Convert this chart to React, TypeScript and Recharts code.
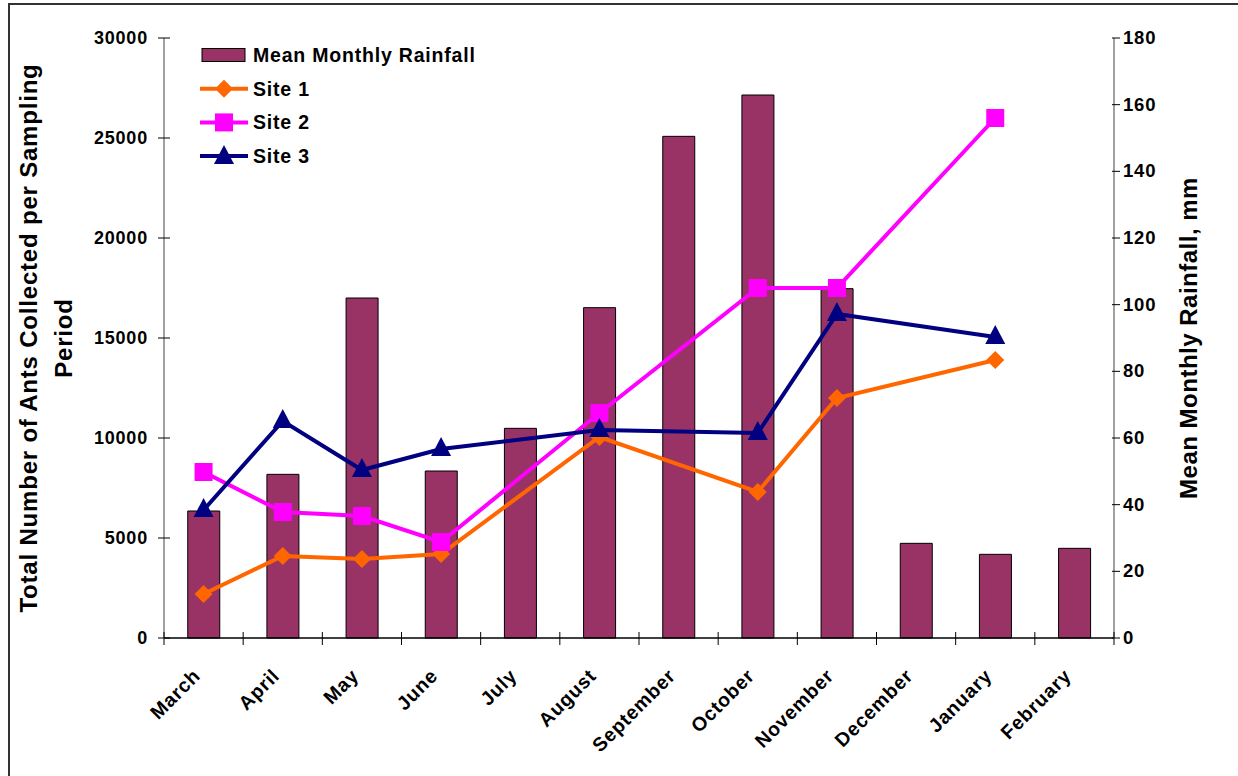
import React from "react";
import {
  ComposedChart,
  Bar,
  Line,
  XAxis,
  YAxis,
  Legend,
} from "recharts";

const months = [
  "March",
  "April",
  "May",
  "June",
  "July",
  "August",
  "September",
  "October",
  "November",
  "December",
  "January",
  "February",
];
const rainfall = [38.1, 49.1, 102, 50.1, 62.9, 99.1, 150.5, 162.9, 104.8, 28.4, 25.1, 26.9];
const site1 = [2200, 4100, 3950, 4200, null, 10050, null, 7300, 12000, null, 13900, null];
const site2 = [8300, 6300, 6100, 4800, null, 11250, null, 17500, 17500, null, 26000, null];
const site3 = [6400, 10850, 8400, 9450, null, 10400, null, 10250, 16200, null, 15050, null];
const antTicks = [0, 5000, 10000, 15000, 20000, 25000, 30000];
const rainTicks = [0, 20, 40, 60, 80, 100, 120, 140, 160, 180];

const data = months.map((month, i) => ({
  month,
  rainfall: rainfall[i],
  site1: site1[i],
  site2: site2[i],
  site3: site3[i],
}));

const W = 1238;
const H = 776;
const PLOT_LEFT = 164;
const PLOT_RIGHT = 1114;
const BAND = (PLOT_RIGHT - PLOT_LEFT) / months.length;
const FONT = "Arial, 'Liberation Sans', sans-serif";

const BAR_FILL = "#993366";
const C1 = "#FF6600";
const C2 = "#FF00FF";
const C3 = "#000080";

const Diamond = ({ cx, cy, color }: any) => (
  <path d={`M${cx},${cy - 9}L${cx + 9},${cy}L${cx},${cy + 9}L${cx - 9},${cy}Z`} fill={color} />
);
const Square = ({ cx, cy, color }: any) => (
  <rect x={cx - 9} y={cy - 9} width={18} height={18} fill={color} />
);
const Triangle = ({ cx, cy, color }: any) => (
  <path d={`M${cx},${cy - 12}L${cx + 10},${cy + 7}L${cx - 10},${cy + 7}Z`} fill={color} />
);

const makeDot = (Shape: any, color: string) => (props: any) => {
  const { cx, cy, index, value } = props;
  if (value == null || cy == null || isNaN(cy)) return <g key={`d${index}`} />;
  return <Shape key={`d${index}`} cx={cx} cy={cy} color={color} />;
};

const MonthTick = (props: any) => {
  const { x, y, payload, index } = props;
  const left = x - BAND / 2;
  return (
    <g>
      <line x1={left} y1={y - 6} x2={left} y2={y + 7} stroke="#000" strokeWidth={1} />
      {index === months.length - 1 && (
        <line x1={x + BAND / 2} y1={y - 6} x2={x + BAND / 2} y2={y + 7} stroke="#000" strokeWidth={1} />
      )}
      <text
        x={x - 2}
        y={y + 39}
        textAnchor="end"
        transform={`rotate(-45, ${x - 2}, ${y + 39})`}
        fontFamily={FONT}
        fontWeight="bold"
        fontSize={19.5}
        letterSpacing={0.8}
        fill="#000"
      >
        {payload.value}
      </text>
    </g>
  );
};

const LeftTick = (props: any) => {
  const { x, y, payload } = props;
  return (
    <g>
      <line x1={x - 6} y1={y} x2={x + 6} y2={y} stroke="#000" />
      <text x={x - 16} y={y + 6} textAnchor="end" fontFamily={FONT} fontWeight="bold" fontSize={18} letterSpacing={0.8} fill="#000">
        {payload.value}
      </text>
    </g>
  );
};

const RightTick = (props: any) => {
  const { x, y, payload } = props;
  return (
    <g>
      <line x1={x - 2} y1={y} x2={x + 6} y2={y} stroke="#000" />
      <text x={x + 9} y={y + 6} textAnchor="start" fontFamily={FONT} fontWeight="bold" fontSize={18.5} letterSpacing={0.8} fill="#000">
        {payload.value}
      </text>
    </g>
  );
};

const LeftTitle = (props: any) => {
  const cy = props.viewBox.y + props.viewBox.height / 2;
  const common = { textAnchor: "middle" as const, fontFamily: FONT, fontWeight: "bold", fontSize: 24, letterSpacing: 0.8, fill: "#000" };
  return (
    <g>
      <text x={37} y={cy} transform={`rotate(-90, 37, ${cy})`} {...common}>
        Total Number of Ants Collected per Sampling
      </text>
      <text x={72} y={cy} transform={`rotate(-90, 72, ${cy})`} {...common}>
        Period
      </text>
    </g>
  );
};

const RightTitle = (props: any) => {
  const cy = props.viewBox.y + props.viewBox.height / 2;
  return (
    <text
      x={1197}
      y={cy}
      transform={`rotate(-90, 1197, ${cy})`}
      textAnchor="middle"
      fontFamily={FONT}
      fontWeight="bold"
      fontSize={24}
      letterSpacing={0.5}
      fill="#000"
    >
      Mean Monthly Rainfall, mm
    </text>
  );
};

const legendItems = [
  { name: "Mean Monthly Rainfall", kind: "bar", color: BAR_FILL },
  { name: "Site 1", kind: "diamond", color: C1 },
  { name: "Site 2", kind: "square", color: C2 },
  { name: "Site 3", kind: "triangle", color: C3 },
];

const ChartLegend = () => (
  <svg width={320} height={140}>
    {legendItems.map((it, i) => {
      const cy = 13 + i * 33.7;
      return (
        <g key={it.name}>
          {it.kind === "bar" ? (
            <rect x={4} y={cy - 6.5} width={43} height={13} fill={it.color} stroke="#000" strokeWidth={1} />
          ) : (
            <line x1={2} y1={cy} x2={50} y2={cy} stroke={it.color} strokeWidth={4} />
          )}
          {it.kind === "diamond" && <Diamond cx={26} cy={cy} color={it.color} />}
          {it.kind === "square" && <Square cx={26} cy={cy} color={it.color} />}
          {it.kind === "triangle" && <Triangle cx={26} cy={cy + 1} color={it.color} />}
          <text x={55} y={cy + 7} fontFamily={FONT} fontWeight="bold" fontSize={19.5} letterSpacing={0.8} fill="#000">
            {it.name}
          </text>
        </g>
      );
    })}
  </svg>
);

export default function App() {
  return (
    <div style={{ position: "absolute", left: 0, top: 0, width: W, height: H, background: "#fff", overflow: "hidden" }}>
      <div
        style={{
          position: "absolute",
          left: 8,
          top: 3,
          width: W,
          height: H,
          borderLeft: "2px solid #333",
          borderTop: "2px solid #333",
        }}
      />
      <ComposedChart
        width={W}
        height={H}
        data={data}
        margin={{ top: 38, right: 10, left: 10, bottom: 38 }}
        barCategoryGap="30%"
      >
        <XAxis
          dataKey="month"
          interval={0}
          height={100}
          tickSize={0}
          tickMargin={0}
          tickLine={false}
          axisLine={{ stroke: "#000", strokeWidth: 1.5 }}
          tick={<MonthTick />}
        />
        <YAxis
          yAxisId="ants"
          width={154}
          domain={[0, 30000]}
          ticks={antTicks}
          interval={0}
          tickSize={0}
          tickMargin={0}
          tickLine={false}
          axisLine={{ stroke: "#808080", strokeWidth: 1.5 }}
          tick={<LeftTick />}
          label={{ content: LeftTitle }}
        />
        <YAxis
          yAxisId="rain"
          orientation="right"
          width={114}
          domain={[0, 180]}
          ticks={rainTicks}
          interval={0}
          tickSize={0}
          tickMargin={0}
          tickLine={false}
          axisLine={{ stroke: "#808080", strokeWidth: 1.5 }}
          tick={<RightTick />}
          label={{ content: RightTitle }}
        />
        <Legend
          layout="vertical"
          align="center"
          verticalAlign="middle"
          wrapperStyle={{ position: "absolute", left: 198, top: 42, width: 320, height: 140 }}
          content={<ChartLegend />}
        />
        <Bar
          yAxisId="rain"
          dataKey="rainfall"
          name="Mean Monthly Rainfall"
          fill={BAR_FILL}
          stroke="#000"
          strokeWidth={1}
          isAnimationActive={false}
        />
        <Line
          yAxisId="ants"
          dataKey="site1"
          name="Site 1"
          stroke={C1}
          strokeWidth={4}
          connectNulls
          dot={makeDot(Diamond, C1)}
          activeDot={false}
          isAnimationActive={false}
        />
        <Line
          yAxisId="ants"
          dataKey="site2"
          name="Site 2"
          stroke={C2}
          strokeWidth={4}
          connectNulls
          dot={makeDot(Square, C2)}
          activeDot={false}
          isAnimationActive={false}
        />
        <Line
          yAxisId="ants"
          dataKey="site3"
          name="Site 3"
          stroke={C3}
          strokeWidth={4}
          connectNulls
          dot={makeDot(Triangle, C3)}
          activeDot={false}
          isAnimationActive={false}
        />
      </ComposedChart>
    </div>
  );
}
